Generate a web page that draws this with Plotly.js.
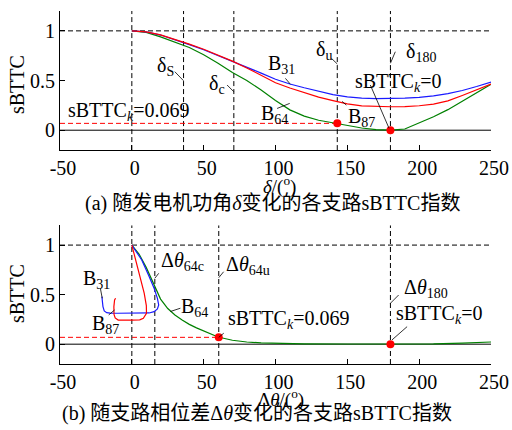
<!DOCTYPE html>
<html><head><meta charset="utf-8">
<script src="https://cdn.plot.ly/plotly-3.0.1.min.js"></script>
<style>html,body{margin:0;padding:0;background:#fff;}#chart{width:512px;height:430px;}</style>
</head><body><div id="chart"></div>
<script>
// ---- data: panel (a) sBTTC vs generator angle delta ----
const deltaDeg = [0,10,20,30,40,50,60,70,80,90,100,110,120,130,140,150,160,170,180,190,200,210,220,230,240,250];
const sB31_a = [1,0.99,0.958,0.912,0.862,0.81,0.752,0.692,0.64,0.575,0.513,0.465,0.427,0.39,0.358,0.336,0.322,0.317,0.318,0.322,0.33,0.345,0.368,0.40,0.44,0.485];
const sB87_a = [1,0.99,0.96,0.917,0.867,0.815,0.757,0.695,0.627,0.552,0.478,0.425,0.376,0.333,0.298,0.266,0.245,0.237,0.236,0.238,0.246,0.262,0.295,0.35,0.405,0.465];
const sB64_a = [1,0.985,0.94,0.89,0.832,0.76,0.675,0.58,0.5,0.405,0.3,0.205,0.142,0.1,0.072,0.048,0.022,0.006,0,0.012,0.07,0.135,0.207,0.29,0.375,0.462];
const vLinesA = [0,36,71,143,180];          // delta_s, delta_c, delta_u, delta_180
const kPointA_x = [143,180], kPointA_y = [0.069,0];

// ---- data: panel (b) sBTTC vs branch phase difference ----
const theta31 = [0,3,6.9,11.5,15.5,17.8,18.7,17.8,15.5,12,5,0,-5,-10,-15,-17.5,-19.2,-20.1,-20.6,-20.8];
const sB31_b  = [1,0.93,0.85,0.70,0.564,0.463,0.396,0.355,0.328,0.315,0.312,0.313,0.312,0.312,0.313,0.318,0.335,0.379,0.446,0.48];
const theta87 = [0,2.4,4.5,6.3,8.6,10.1,10.2,8.0,5.5,0,-5,-9.5,-11.6,-12.4,-12.5,-12.0,-11.3];
const sB87_b  = [1,0.866,0.76,0.665,0.515,0.39,0.312,0.262,0.245,0.242,0.242,0.243,0.265,0.30,0.379,0.446,0.463];
const theta64 = [0,5,10,15,20,25,30,35,40,45,50,55,60,70,80,90,100,120,150,180,210,230,250];
const sB64_b  = [1,0.91,0.775,0.61,0.455,0.36,0.295,0.245,0.2,0.165,0.132,0.1,0.072,0.04,0.022,0.013,0.008,0.004,0.002,0,0.003,0.01,0.022];
const vLinesB = [0,16,60.5,180];            // dtheta_64c, dtheta_64u, dtheta_180
const kPointB_x = [60.5,180], kPointB_y = [0.069,0];

const kValue = 0.069;
const xTicks = [-50,0,50,100,150,200,250];
const yTicks = [0,0.5,1];

const BLUE='#1a1aff', RED='#ff0000', GREEN='#008000';
const FONT = 'Liberation Serif, Times New Roman, serif';
const CJK = 'Liberation Serif, Noto Sans CJK SC, serif';

function line(x,y,color,xa,ya){return {x:x,y:y,xaxis:xa,yaxis:ya,mode:'lines',line:{color:color,width:1.2},showlegend:false,hoverinfo:'skip'};}
const traces = [
  line(deltaDeg,sB64_a,GREEN,'x','y'),
  line(deltaDeg,sB31_a,BLUE,'x','y'),
  line(deltaDeg,sB87_a,RED,'x','y'),
  {x:kPointA_x,y:kPointA_y,xaxis:'x',yaxis:'y',mode:'markers',marker:{color:RED,size:8},showlegend:false},
  line(theta64,sB64_b,GREEN,'x2','y2'),
  line(theta31,sB31_b,BLUE,'x2','y2'),
  line(theta87,sB87_b,RED,'x2','y2'),
  {x:kPointB_x,y:kPointB_y,xaxis:'x2',yaxis:'y2',mode:'markers',marker:{color:RED,size:8},showlegend:false}
];

const shapes = [];
function panelShapes(xr,yr,vlines,kx){
  vlines.forEach(v=>shapes.push({type:'line',xref:xr,yref:yr,x0:v,x1:v,y0:-0.2,y1:1.2,line:{color:'black',width:1,dash:'5px,3px'},layer:'below'}));
  shapes.push({type:'line',xref:xr,yref:yr,x0:-50,x1:250,y0:1,y1:1,line:{color:'black',width:1,dash:'5px,3px'},layer:'below'});
  shapes.push({type:'line',xref:xr,yref:yr,x0:-50,x1:250,y0:0,y1:0,line:{color:'black',width:1},layer:'below'});
  shapes.push({type:'line',xref:xr,yref:yr,x0:-50,x1:kx,y0:kValue,y1:kValue,line:{color:RED,width:1,dash:'5px,3px'},layer:'below'});
}
panelShapes('x','y',vLinesA,kPointA_x[0]);
panelShapes('x2','y2',vLinesB,kPointB_x[0]);

// leader lines [xref,yref,x0,y0,x1,y1]
const leaders = [
  ['x','y',29.9,0.589,36,0.498],
  ['x','y',66.3,0.455,71,0.387],
  ['x','y',138.9,0.724,143,0.667],
  ['x','y',180,0.674,183.4,0.79],
  ['x','y',106.9,0.522,110.4,0.462],
  ['x','y',101.1,0.219,109.9,0.27],
  ['x','y',149.3,0.253,146.3,0.29],
  ['x','y',166,0.455,179,0.02],
  ['x2','y2',18.7,0.715,16,0.665],
  ['x2','y2',63.9,0.731,60.5,0.671],
  ['x2','y2',-21.9,0.564,-20.6,0.463],
  ['x2','y2',-16.1,0.295,-12.0,0.345],
  ['x2','y2',33.8,0.363,26.9,0.33],
  ['x2','y2',64,0.111,60.5,0.069],
  ['x2','y2',185.7,0.496,180,0.413],
  ['x2','y2',191.6,0.177,181.1,0.043]
];
leaders.forEach(l=>shapes.push({type:'line',xref:l[0],yref:l[1],x0:l[2],y0:l[3],x1:l[4],y1:l[5],line:{color:'black',width:0.8}}));

function txt(xr,yr,x,y,t,opts){return Object.assign({xref:xr,yref:yr,x:x,y:y,text:t,showarrow:false,xanchor:'center',yanchor:'middle',font:{family:FONT,size:20,color:'black'}},opts||{});}
const ann = [
  txt('x','y',23.4,0.646,'δ<sub>S</sub>'),
  txt('x','y',59.6,0.465,'δ<sub>c</sub>'),
  txt('x','y',134,0.80,'δ<sub>u</sub>'),
  txt('x','y',201,0.78,'δ<sub>180</sub>'),
  txt('x','y',104,0.657,'B<sub>31</sub>'),
  txt('x','y',99,0.162,'B<sub>64</sub>'),
  txt('x','y',160,0.131,'B<sub>87</sub>'),
  txt('x','y',185.5,0.485,'sBTTC<sub><i>k</i></sub>=0'),
  txt('x','y',-46,0.19,'sBTTC<sub><i>k</i></sub>=0.069',{xanchor:'left'}),
  txt('x2','y2',35,0.839,'Δ<i>θ</i><sub>64c</sub>'),
  txt('x2','y2',81,0.799,'Δ<i>θ</i><sub>64u</sub>'),
  txt('x2','y2',-24.6,0.648,'B<sub>31</sub>'),
  txt('x2','y2',-18.4,0.194,'B<sub>87</sub>'),
  txt('x2','y2',43.6,0.366,'B<sub>64</sub>'),
  txt('x2','y2',109,0.245,'sBTTC<sub><i>k</i></sub>=0.069'),
  txt('x2','y2',205,0.567,'Δ<i>θ</i><sub>180</sub>'),
  txt('x2','y2',214,0.295,'sBTTC<sub><i>k</i></sub>=0'),
  // axis titles & panel captions
  txt('paper','paper',0.510,0.507,'<i>δ</i>/(<sup>o</sup>)',{font:{family:FONT,size:19,color:'black'}}),
  txt('paper','paper',0.513,-0.097,'Δ<i>θ</i>/(<sup>o</sup>)',{font:{family:FONT,size:19,color:'black'}}),
  txt('paper','paper',-0.0998,0.793,'sBTTC',{textangle:-90}),
  txt('paper','paper',-0.0998,0.201,'sBTTC',{textangle:-90}),
  txt('paper','paper',0.494,0.454,'(a) 随发电机功角<i>δ</i>变化的各支路sBTTC指数',{font:{family:CJK,size:20,color:'black'}}),
  txt('paper','paper',0.456,-0.141,'(b) 随支路相位差Δ<i>θ</i>变化的各支路sBTTC指数',{font:{family:CJK,size:20,color:'black'}})
];

function xax(anchor){return {anchor:anchor,range:[-50,250],tickmode:'array',tickvals:xTicks,ticktext:xTicks.map(String),ticks:'inside',ticklen:5,tickcolor:'black',ticklabelshift:3,showline:true,linecolor:'black',linewidth:1,showgrid:false,zeroline:false,tickfont:{family:FONT,size:20,color:'black'},fixedrange:true};}
function yax(anchor,dom){return {anchor:anchor,domain:dom,range:[-0.2,1.2],tickmode:'array',tickvals:yTicks,ticktext:['0','0.5','1'],ticks:'inside',ticklen:5,tickcolor:'black',showline:true,linecolor:'black',linewidth:1,showgrid:false,zeroline:false,tickfont:{family:FONT,size:20,color:'black'},fixedrange:true};}

const layout = {
  width:512,height:430,
  margin:{l:60,r:21,t:11,b:66,pad:0},
  paper_bgcolor:'white',plot_bgcolor:'white',
  showlegend:false,
  xaxis:xax('y'), yaxis:yax('x',[0.606,1]),
  xaxis2:xax('y2'), yaxis2:yax('x2',[0,0.393]),
  shapes:shapes, annotations:ann
};
Plotly.newPlot('chart',traces,layout,{displayModeBar:false,staticPlot:true});
</script></body></html>
